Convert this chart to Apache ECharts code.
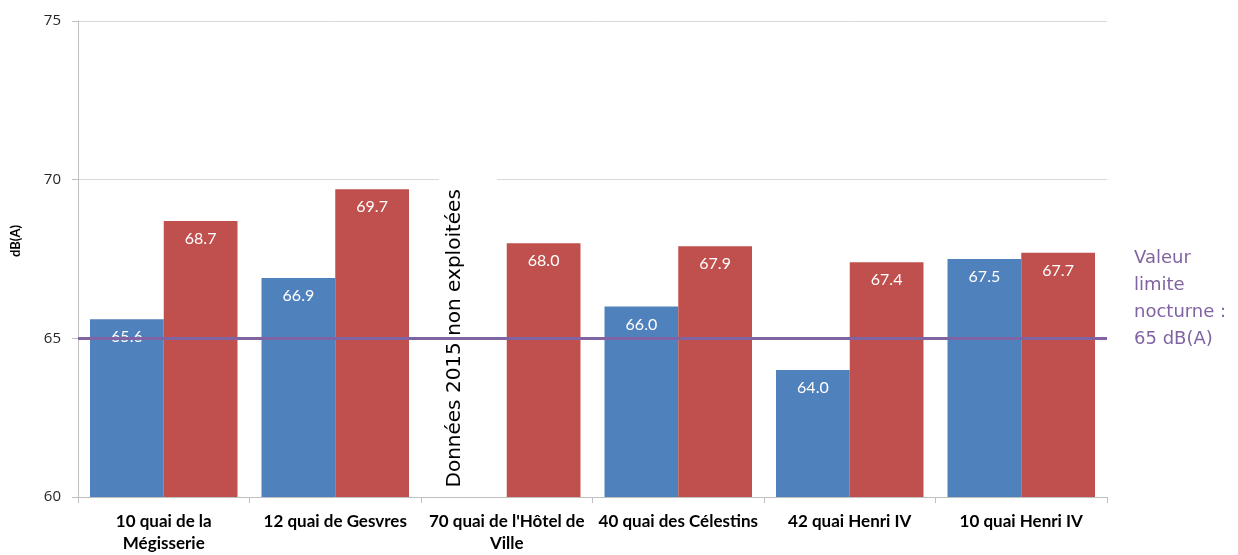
<!DOCTYPE html>
<html>
<head>
<meta charset="utf-8">
<script src="https://cdn.jsdelivr.net/npm/echarts@6/dist/echarts.min.js"></script>
<style>
  html, body { margin: 0; padding: 0; background: #fff; }
  #chart { width: 1238px; height: 555px; }
</style>
</head>
<body>
<div id="chart"></div>
<script>
// Sites measured along the quays
const sites = [
  '10 quai de la\nMégisserie',
  '12 quai de Gesvres',
  "70 quai de l'Hôtel de\nVille",
  '40 quai des Célestins',
  '42 quai Henri IV',
  '10 quai Henri IV'
];
// Night-time levels, dB(A); '-' where the 2015 data could not be used
const levels2015 = [65.6, 66.9, '-', 66.0, 64.0, 67.5];
const levels2016 = [68.7, 69.7, 68.0, 67.9, 67.4, 67.7];
// Night-time limit value
const nightLimit = 65;
const yTicks = { min: 60, max: 75, step: 5 };

const chart = echarts.init(document.getElementById('chart'), null, { renderer: 'canvas' });

const barLabel = {
  show: true,
  position: 'insideTop',
  distance: 10,
  color: '#ffffff',
  fontFamily: 'Lato, "Open Sans", sans-serif',
  fontSize: 16,
  formatter: p => Number(p.value).toFixed(1)
};

chart.setOption({
  animation: false,
  grid: { left: 78, right: 131, top: 21, bottom: 56 },
  xAxis: {
    type: 'category',
    data: sites,
    axisLine: { lineStyle: { color: '#bfbfbf', width: 1 } },
    axisTick: { show: true, length: 6, lineStyle: { color: '#bfbfbf' } },
    axisLabel: {
      interval: 0,
      margin: 14,
      color: '#000',
      fontFamily: 'Lato, "Open Sans", sans-serif',
      fontWeight: 'bold',
      fontSize: 17,
      lineHeight: 22
    }
  },
  yAxis: {
    type: 'value',
    min: yTicks.min,
    max: yTicks.max,
    interval: yTicks.step,
    name: 'dB(A)',
    nameLocation: 'middle',
    nameRotate: 90,
    nameGap: 56,
    nameTextStyle: {
      color: '#000',
      fontFamily: 'Lato, "Open Sans", sans-serif',
      fontWeight: 'bold',
      fontSize: 13,
      padding: [0, 0, 0, 36]
    },
    axisLine: { show: true, lineStyle: { color: '#bfbfbf', width: 1 } },
    axisTick: { show: true, length: 6, lineStyle: { color: '#bfbfbf' } },
    axisLabel: {
      margin: 17,
      color: '#262626',
      fontFamily: '"Open Sans", Lato, sans-serif',
      fontSize: 15
    },
    splitLine: { lineStyle: { color: '#d9d9d9', width: 1 } }
  },
  series: [
    {
      name: '2015',
      type: 'bar',
      data: levels2015,
      barGap: '0%',
      barCategoryGap: '14%',
      itemStyle: { color: '#4f81bd' },
      label: barLabel,
      z: 2
    },
    {
      name: '2016',
      type: 'bar',
      data: levels2016,
      barGap: '0%',
      barCategoryGap: '14%',
      itemStyle: { color: '#c0504d' },
      label: barLabel,
      z: 2,
      markLine: {
        silent: true,
        symbol: ['none', 'none'],
        z: 10,
        lineStyle: { color: '#8064a2', width: 3, type: 'solid' },
        label: {
          show: true,
          position: 'end',
          distance: 27,
          offset: [0, -40],
          align: 'left',
          color: '#8064a2',
          fontFamily: '"DejaVu Sans", sans-serif',
          fontSize: 18,
          lineHeight: 27,
          formatter: 'Valeur\nlimite\nnocturne :\n' + nightLimit + ' dB(A)'
        },
        data: [{ yAxis: nightLimit }]
      }
    }
  ]
});

// Note for the site whose 2015 measurements were discarded
function drawNote() {
  const idx = levels2015.indexOf('-');
  const left = chart.convertToPixel({ xAxisIndex: 0 }, idx);
  const cat = chart.getModel().getComponent('xAxis', 0).axis.getBandWidth();
  const cx = left - cat * 0.5 + cat * 0.07 + cat * 0.43 * 0.5 - 15;
  const yTop = chart.convertToPixel({ yAxisIndex: 0 }, 70.2);
  const yBot = chart.convertToPixel({ yAxisIndex: 0 }, 60.3);
  const yMid = chart.convertToPixel({ yAxisIndex: 0 }, 65);
  chart.setOption({
    graphic: [
      {
        type: 'rect',
        shape: { x: cx - 16, y: yTop, width: 58, height: yBot - yTop },
        style: { fill: '#ffffff' },
        z: 1,
        silent: true
      },
      {
        type: 'text',
        x: cx,
        y: yMid,
        rotation: Math.PI / 2,
        z: 5,
        silent: true,
        style: {
          text: 'Données 2015 non exploitées',
          fill: '#000',
          font: '20px "DejaVu Sans", sans-serif',
          align: 'center',
          verticalAlign: 'middle'
        }
      }
    ]
  });
}
drawNote();
</script>
</body>
</html>
